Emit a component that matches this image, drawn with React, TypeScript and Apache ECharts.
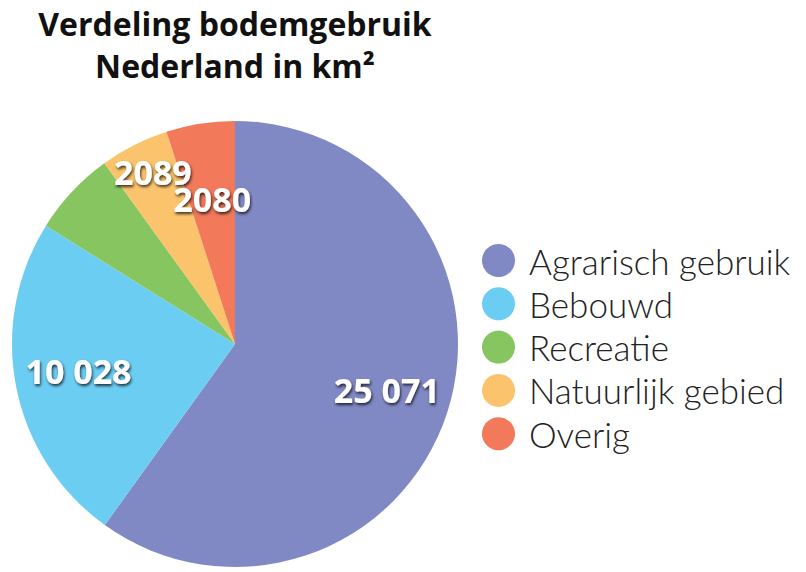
import React, { useEffect, useRef } from "react";
import * as echarts from "echarts";

const categories = ["Agrarisch gebruik", "Bebouwd", "Recreatie", "Natuurlijk gebied", "Overig"];
const values = [25071, 10028, 2570, 2089, 2080];
const valueLabels = ["25 071", "10 028", "", "2089", "2080"];
const colors = ["#8189C5", "#6CCDF3", "#86C55F", "#FBC46C", "#F2795A"];
const labelOffsets = [[0, -3], [0, -4], [0, 0], [-10, -30], [2, 13]];

const FONT = "'Open Sans', Lato, sans-serif";
const LEGEND_FONT = "Lato, 'Open Sans', sans-serif";

export default function App() {
  const ref = useRef<HTMLDivElement>(null);
  useEffect(() => {
    document.body.style.margin = "0";
    const chart = echarts.init(ref.current!, null, { renderer: "svg" });
    chart.setOption({
      animation: false,
      title: {
        text: "Verdeling bodemgebruik\nNederland in km²",
        left: 235,
        top: 2,
        padding: 0,
        textAlign: "center",
        textStyle: { fontFamily: FONT, fontSize: 32, fontWeight: "bold", color: "#111", lineHeight: 42 },
      },
      legend: {
        orient: "vertical",
        left: 477,
        top: 238,
        icon: "circle",
        itemWidth: 33,
        itemHeight: 33,
        itemGap: 8.3,
        data: categories,
        textStyle: { fontFamily: LEGEND_FONT, fontSize: 35, fontWeight: 300, color: "#222", lineHeight: 33, padding: [0, 0, 0, 9] },
      },
      series: [
        {
          type: "pie",
          center: [235, 344],
          radius: [0, 223],
          startAngle: 90,
          clockwise: true,
          label: { show: false },
          labelLine: { show: false },
          itemStyle: { borderWidth: 0 },
          silent: true,
          data: categories.map((c, i) => ({ name: c, value: values[i], itemStyle: { color: colors[i] } })),
        },
        {
          type: "pie",
          center: [235, 344],
          radius: [90, 223],
          startAngle: 90,
          clockwise: true,
          silent: true,
          avoidLabelOverlap: false,
          legendHoverLink: false,
          labelLayout: { hideOverlap: false },
          labelLine: { show: false },
          label: {
            show: true,
            position: "inside",
            fontFamily: FONT,
            fontSize: 34,
            fontWeight: "bold",
            color: "#fff",
            textShadowColor: "rgba(0,0,0,0.75)",
            textShadowBlur: 3,
            textShadowOffsetX: 1,
            textShadowOffsetY: 2,
          },
          data: categories.map((c, i) => ({
            name: c + " ",
            value: values[i],
            itemStyle: { color: "rgba(0,0,0,0)" },
            label: { formatter: valueLabels[i], offset: labelOffsets[i], show: valueLabels[i] !== "" },
          })),
        },
      ],
    });
    return () => chart.dispose();
  }, []);
  return <div ref={ref} style={{ width: 806, height: 572 }} />;
}
